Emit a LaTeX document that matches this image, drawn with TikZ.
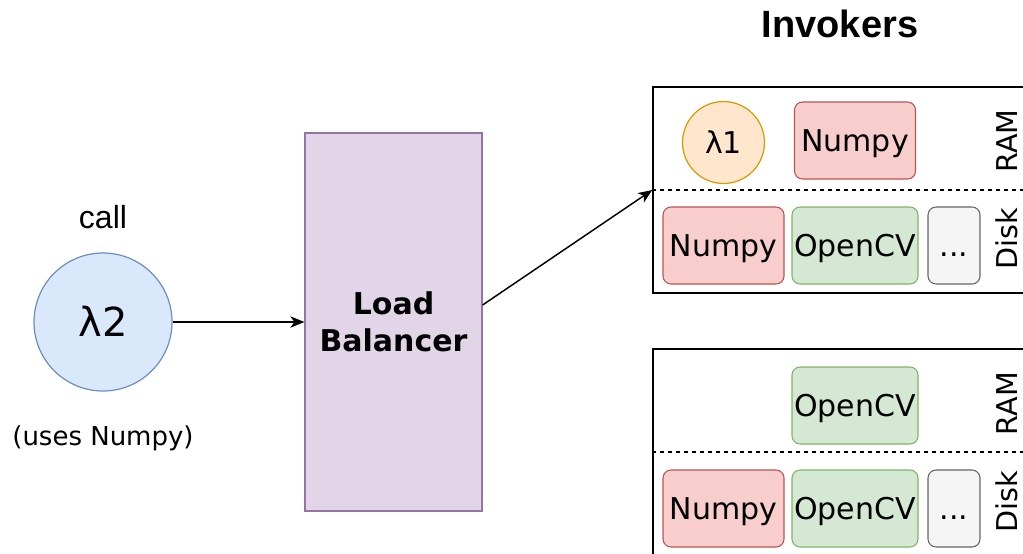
\documentclass[tikz,border=0pt]{standalone}
\usepackage{fontspec}
\setmainfont{DejaVu Sans}
\newfontfamily\headfont{Liberation Sans}
\usetikzlibrary{arrows.meta}

\definecolor{lbfill}{HTML}{E1D5E7}
\definecolor{lbdraw}{HTML}{9673A6}
\definecolor{fnfill}{HTML}{DAE8FC}
\definecolor{fndraw}{HTML}{6C8EBF}
\definecolor{runfill}{HTML}{FFE6CC}
\definecolor{rundraw}{HTML}{D79B00}
\definecolor{npfill}{HTML}{F8CECC}
\definecolor{npdraw}{HTML}{B85450}
\definecolor{cvfill}{HTML}{D5E8D4}
\definecolor{cvdraw}{HTML}{82B366}
\definecolor{morefill}{HTML}{F5F5F5}
\definecolor{moredraw}{HTML}{666666}

\begin{document}
\begin{tikzpicture}[
    x=0.75pt,
    y=-0.75pt,
    >={Stealth[length=10.5pt,width=8.5pt,inset=3pt]},
    pkg/.style={
        draw,
        rounded corners=6pt,
        line width=0.8pt,
        minimum height=57.75pt,
        inner sep=0pt,
        text height=16pt,
        text depth=0pt,
        font=\fontsize{22.5}{26}\selectfont
    },
    numpy/.style={pkg, fill=npfill, draw=npdraw, minimum width=90.75pt},
    opencv/.style={pkg, fill=cvfill, draw=cvdraw, minimum width=94.5pt},
    more/.style={pkg, fill=morefill, draw=moredraw, minimum width=39pt},
    invoker/.style={
        draw,
        line width=1.1pt,
        minimum width=285pt,
        minimum height=154.5pt,
        inner sep=0pt
    },
    memlabel/.style={
        rotate=90,
        anchor=base,
        font=\fontsize{21.5}{25}\selectfont
    },
    request/.style={
        ->,
        line width=1.1pt
    }
    ]
    \useasboundingbox (0,0) rectangle (1023,553);

    % caller
    \node[font=\headfont\fontsize{24}{28}\selectfont] (CALL) at (103,217) {call};
    \node[circle, draw=fndraw, fill=fnfill, line width=0.9pt, minimum size=103.5pt, inner sep=0pt,
          text height=22pt, text depth=0pt, font=\fontsize{30}{34}\selectfont] (LAMBDA2) at (103,322) {λ2};
    \node[font=\fontsize{19.5}{23}\selectfont] (USES) at (103,438) {(uses Numpy)};

    % balancer
    \node[draw=lbdraw, fill=lbfill, line width=0.9pt, minimum width=132.75pt, minimum height=283.5pt,
          align=center, font=\bfseries\fontsize{22.5}{27.5}\selectfont] (LB) at (393.5,322) {Load\\Balancer};

    % invokers
    \node[font=\headfont\bfseries\fontsize{28.5}{32}\selectfont] (TITLE) at (840,24) {Invokers};

    \node[invoker] (INV1) at (843,190) {};
    \draw[line width=0.9pt, dash pattern=on 3pt off 3pt] (INV1.west) -- (INV1.east);
    \node[circle, draw=rundraw, fill=runfill, line width=0.9pt, minimum size=61.5pt, inner sep=0pt,
          text height=16pt, text depth=0pt, font=\fontsize{22.5}{26}\selectfont] (LAMBDA1) at (723.5,142.5) {λ1};
    \node[numpy] (RAMNP1) at (855,140.5) {Numpy};
    \node[numpy] (DISKNP1) at (723.5,245.5) {Numpy};
    \node[opencv] (DISKCV1) at (855,245.5) {OpenCV};
    \node[more] (DISKMORE1) at (954,245.5) {...};
    \node[memlabel] (RAM1) at (1017,141) {RAM};
    \node[memlabel] (DISK1) at (1017,238.5) {Disk};

    \node[invoker] (INV2) at (843,452) {};
    \draw[line width=0.9pt, dash pattern=on 3pt off 3pt] (INV2.west) -- (INV2.east);
    \node[opencv] (RAMCV2) at (855,405.5) {OpenCV};
    \node[numpy] (DISKNP2) at (723.5,508.5) {Numpy};
    \node[opencv] (DISKCV2) at (855,508.5) {OpenCV};
    \node[more] (DISKMORE2) at (954,508.5) {...};
    \node[memlabel] (RAM2) at (1017,403.5) {RAM};
    \node[memlabel] (DISK2) at (1017,501.5) {Disk};

    \draw[request] (LAMBDA2.east) -- (LB.west);
    \draw[request] ([yshift=12.75pt]LB.east) -- (INV1.west);
\end{tikzpicture}
\end{document}
